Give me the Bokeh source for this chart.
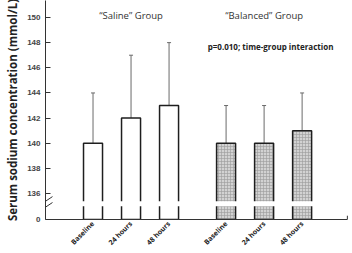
from math import pi

from bokeh.plotting import figure
from bokeh.models import ColumnDataSource, Whisker, FixedTicker, Label, TeeHead, Range1d
from bokeh.embed import file_html
from bokeh.resources import INLINE

# Serum sodium (mmol/L), mean and SD per time point
timepoints = ["Baseline", "24 hours", "48 hours"]
saline_mean = [140, 142, 143]
saline_sd = [4, 5, 5]
balanced_mean = [140, 140, 141]
balanced_sd = [3, 3, 3]
y_ticks = [136, 138, 140, 142, 144, 146, 148, 150]
p_text = "p=0.010; time-group interaction"

# Broken axis: the "0" baseline sits just under the 136 tick
ZERO = 133.94
Y_TOP = 151.35
X_LEFT, X_RIGHT = -0.25, 7.72

saline_x = [1, 2, 3]
balanced_x = [4.5, 5.5, 6.5]

p = figure(width=352, height=253,
           x_range=Range1d(X_LEFT, X_RIGHT), y_range=Range1d(ZERO, Y_TOP),
           output_backend="svg", toolbar_location=None,
           min_border_left=45, min_border_right=4,
           min_border_top=0, min_border_bottom=0)
p.outline_line_color = None
p.xgrid.grid_line_color = None
p.ygrid.grid_line_color = None
p.background_fill_color = "white"

BAR_W = 0.5
EDGE = "#1e1e1e"
AXIS = "#333333"

sal = ColumnDataSource(dict(x=saline_x, top=saline_mean,
                            hi=[m + s for m, s in zip(saline_mean, saline_sd)]))
bal = ColumnDataSource(dict(x=balanced_x, top=balanced_mean,
                            hi=[m + s for m, s in zip(balanced_mean, balanced_sd)]))

for src in (sal, bal):
    p.add_layout(Whisker(source=src, base="x", lower="top", upper="hi",
                         dimension="height", line_color="#6a6a6a", line_width=1,
                         upper_head=TeeHead(size=4, line_color="#6a6a6a", line_width=1),
                         lower_head=None))

p.vbar(x="x", top="top", bottom=ZERO, width=BAR_W, source=sal,
       fill_color="white", line_color=EDGE, line_width=1.5)
p.vbar(x="x", top="top", bottom=ZERO, width=BAR_W, source=bal,
       fill_color="#d2d2d2", line_color=EDGE, line_width=1.5,
       hatch_pattern="+", hatch_scale=3, hatch_color="#9a9a9a", hatch_weight=0.6)

# white gap through the bars marking the axis break
p.quad(left=[0.4], right=[7.0], bottom=[134.99], top=[135.39],
       fill_color="white", line_color=None)

# small end tick on the x axis
p.segment(x0=[7.69], y0=[ZERO], x1=[7.69], y1=[ZERO + 0.3], line_color=AXIS, line_width=1)

# break marks on the y axis
p.segment(x0=[-0.30, -0.30], y0=[135.29, 134.82], x1=[-0.066, -0.066], y1=[135.76, 135.29],
          line_color=AXIS, line_width=1)

# y axis
ya = p.yaxis[0]
ya.ticker = FixedTicker(ticks=[ZERO] + y_ticks)
ya.major_label_overrides = {ZERO: "0"}
ya.major_tick_in = 5
ya.major_tick_out = 0
ya.minor_tick_line_color = None
ya.major_label_text_font = "Liberation Sans"
ya.major_label_text_font_style = "bold"
ya.major_label_text_font_size = "8px"
ya.major_label_standoff = 5
ya.axis_line_color = AXIS
ya.major_tick_line_color = AXIS
ya.axis_label = "Serum sodium concentration (mmol/L)"
ya.axis_label_text_font = "Open Sans"
ya.axis_label_text_font_style = "bold"
ya.axis_label_text_font_size = "11.5px"
ya.axis_label_text_color = "#222222"
ya.axis_label_standoff = 4

# x axis with rotated time-point labels
xa = p.xaxis[0]
xa.bounds = (X_LEFT, 7.69)
xa.ticker = FixedTicker(ticks=saline_x + balanced_x)
xa.major_label_overrides = {x: t for x, t in zip(saline_x + balanced_x, timepoints * 2)}
xa.major_label_orientation = pi / 4
xa.major_tick_out = 0
xa.major_tick_in = 0
xa.major_tick_line_color = None
xa.minor_tick_line_color = None
xa.axis_line_color = AXIS
xa.major_label_text_font = "Open Sans"
xa.major_label_text_font_style = "bold"
xa.major_label_text_font_size = "7px"
xa.major_label_text_color = "#222222"
xa.major_label_standoff = 3

for txt, xc in (("\u201cSaline\u201d Group", 2.0), ("\u201cBalanced\u201d Group", 5.5)):
    p.add_layout(Label(x=xc, y=150.16, text=txt, text_align="center",
                       text_baseline="middle", text_font="Open Sans",
                       text_font_size="9.5px", text_color="#333333"))

p.add_layout(Label(x=5.67, y=147.7, text=p_text, text_align="center",
                   text_baseline="middle", text_font="Open Sans",
                   text_font_style="bold", text_font_size="8px", text_color="#222222"))

open("out.html", "w").write(file_html(p, INLINE))
